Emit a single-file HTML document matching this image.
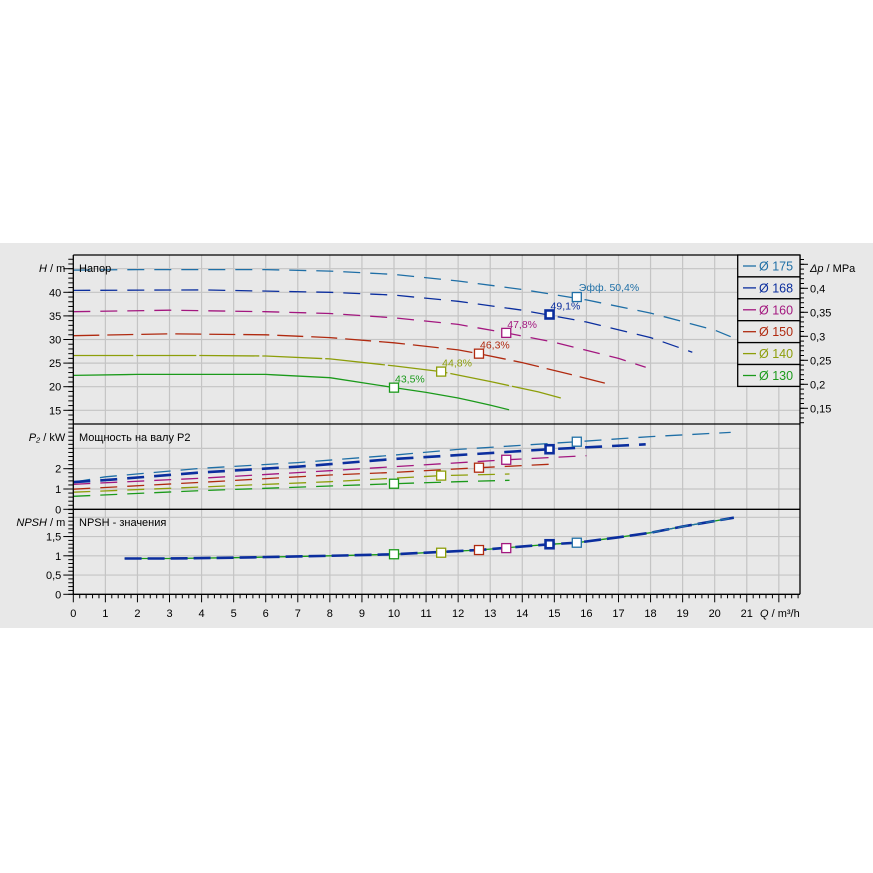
<!DOCTYPE html>
<html><head><meta charset="utf-8"><style>
html,body{margin:0;padding:0;background:#fff;}
svg{display:block;font-family:"Liberation Sans",sans-serif;}
</style></head><body>
<svg id="chart" width="873" height="873" viewBox="0 0 873 873" xmlns="http://www.w3.org/2000/svg">
<rect x="0" y="243" width="873" height="385" fill="#e8e8e8"/>
<g id="grid"></g>
<g id="curves"></g>
<g id="axes"></g>
</svg>
<script>
const sizes = ["175","168","160","150","140","130"];
const colors = ["#1f6fa6","#0b2e9e","#a3177f","#b02a10","#8d9e0a","#1b9a1b"];
const headQ = [
 [0,2,4,6,8,10,12,14,16,18,20,20.5],
 [0,4,8,10,12,14,16,18,19.3],
 [0,3,6,8,10,12,13.5,15,17,17.85],
 [0,3,6,8,10,12,12.65,14,15.5,16.6],
 [0,4,6,8,10,11.47,13,14.5,15.2],
 [0,2,6,8,10,11,12,13,13.59]];
const headH = [
 [44.7,44.8,44.8,44.8,44.5,43.8,42.4,40.6,38.4,35.6,32.0,30.6],
 [40.4,40.5,40.0,39.4,38.1,36.2,33.7,30.4,27.3],
 [35.9,36.2,35.9,35.5,34.6,33.2,31.4,29.4,26.0,24.1],
 [30.8,31.2,31.0,30.4,29.3,27.8,27.0,25.1,22.6,20.7],
 [26.6,26.6,26.5,25.9,24.4,23.2,21.1,18.9,17.6],
 [22.4,22.6,22.6,21.9,19.8,18.8,17.6,16.1,15.1]];
const powerQ = [
 [0,1,4,7,10,12,15.7,18,20.5],
 [0,1,4,7,10,12,14.85,17.85],
 [0,4,8,10,13.5,16],
 [0,4,8,10,12.65,14.9],
 [0,4,8,10,11.47,13.6],
 [0,4,8,10,12,13.6]];
const powerP = [
 [1.34,1.6,2.02,2.3,2.67,2.95,3.33,3.58,3.79],
 [1.34,1.44,1.82,2.1,2.48,2.67,2.96,3.2],
 [1.23,1.53,1.9,2.1,2.44,2.64],
 [0.99,1.33,1.69,1.82,2.05,2.22],
 [0.84,1.1,1.36,1.53,1.66,1.74],
 [0.64,0.92,1.15,1.26,1.36,1.43]];
const npshQ = [1.6,3,5,8,10,12.65,14.85,15.7,17,18,19,20.6];
const npshV = [0.93,0.93,0.95,1.0,1.04,1.15,1.3,1.34,1.48,1.6,1.76,1.99];
const bepQ = [15.7,14.85,13.5,12.65,11.47,10];
const bepH = [39.0,35.3,31.4,27.0,23.2,19.8];
const bepP = [3.33,2.96,2.44,2.05,1.66,1.26];
const bepN = [1.34,1.3,1.2,1.15,1.08,1.04];
const effLabels = ["Эфф.  50,4%","49,1%","47,8%","46,3%","44,8%","43,5%"];
const qTicks = [0,1,2,3,4,5,6,7,8,9,10,11,12,13,14,15,16,17,18,19,20,21];
const hTicks = [15,20,25,30,35,40];
const pTicks = [0,1,2];
const nTicks = ["0","0,5","1","1,5"];
const dpTicks = ["0,15","0,2","0,25","0,3","0,35","0,4"];

const L=73.3, R=800, T1=255, B1=424, B2=509.3, B3=594.3;
const xQ = q => L + q*32.07;
const yH = h => 292.3 - (h-40)*4.72;
const yP = p => 509.3 - p*20.3;
const yN = n => 594.3 - n*38.5;
const yDp = d => 288.3 - (d-0.4)*480;
const NS="http://www.w3.org/2000/svg";
function mk(parent,tag,attrs,text){const e=document.createElementNS(NS,tag);for(const k in attrs)e.setAttribute(k,attrs[k]);if(text!==undefined)e.textContent=text;parent.appendChild(e);return e;}
const grid=document.getElementById('grid'), curves=document.getElementById('curves'), axes=document.getElementById('axes');

// vertical grid
qTicks.forEach(q=>{ if(q===0) return; const l=mk(grid,'line',{x1:xQ(q),x2:xQ(q),y1:T1,y2:B3,stroke:'#c4c4c4','stroke-width':1.2});

});
[22].forEach(q=>{const l=mk(grid,'line',{x1:xQ(q),x2:xQ(q),y1:T1,y2:B3,stroke:'#c4c4c4','stroke-width':1.2});

});
// horizontal grid
[15,20,25,30,35,40,45].forEach(h=>{const l=mk(grid,'line',{x1:L,x2:R,y1:yH(h),y2:yH(h),stroke:'#c4c4c4','stroke-width':1.2});

});
[1,2,3].forEach(p=>{const l=mk(grid,'line',{x1:L,x2:R,y1:yP(p),y2:yP(p),stroke:'#c4c4c4','stroke-width':1.2});

});
[0.5,1,1.5,2].forEach(n=>{const l=mk(grid,'line',{x1:L,x2:R,y1:yN(n),y2:yN(n),stroke:'#c4c4c4','stroke-width':1.2});

});

function path(qs,vs,fy){return qs.map((q,i)=>(i?'L':'M')+xQ(q).toFixed(1)+','+fy(vs[i]).toFixed(1)).join(' ');}
const dashes=["17,10","17,10","17,10","26,8","60,3","200,0"];
for(let i=0;i<6;i++){
 const hp=mk(curves,'path',{d:path(headQ[i],headH[i],yH),fill:'none',stroke:colors[i],'stroke-width':1.3,'stroke-dasharray':dashes[i]});
 
 
 const pp=mk(curves,'path',{d:path(powerQ[i],powerP[i],yP),fill:'none',stroke:colors[i],'stroke-width':i===1?2.6:1.3,'stroke-dasharray':"17,10"});
 
 
}
const np1=mk(curves,'path',{d:path(npshQ,npshV,yN),fill:'none',stroke:'#1b9a1b','stroke-width':1.3});


const np2=mk(curves,'path',{d:path(npshQ,npshV,yN),fill:'none',stroke:'#0b2e9e','stroke-width':2.6,'stroke-dasharray':"17,6"});


const np3=mk(curves,'path',{d:path(npshQ.slice(-3),npshV.slice(-3),yN),fill:'none',stroke:'#1f6fa6','stroke-width':1.3,'stroke-dasharray':"10,4"});



const effPos=[[577,293],[551,311],[508,330],[480,350],[441,368],[395,385]];
for(let i=0;i<6;i++){
 const sw=i===1?2.6:1.3, s=i===1?8:9;
 [[bepH[i],yH],[bepP[i],yP],[bepN[i],yN]].forEach((pr,k)=>{
  const r=mk(curves,'rect',{x:xQ(bepQ[i])-s/2,y:pr[1](pr[0])-s/2,width:s,height:s,fill:'#fff',stroke:colors[i],'stroke-width':sw});
  
  
 });
 const t=mk(curves,'text',{x:xQ(bepQ[i])+(i===0?2:1),y:yH(bepH[i])-(i===0?6:5),fill:colors[i],'font-size':10.5},effLabels[i]);
 
 
}

// panel borders
[[T1],[B1],[B2],[B3]].forEach(y=>{const l=mk(axes,'line',{x1:L,x2:R,y1:y,y2:y,stroke:'#000','stroke-width':1.3});

});
[L,R].forEach(x=>{const l=mk(axes,'line',{x1:x,x2:x,y1:T1,y2:B3,stroke:'#000','stroke-width':1.3});

});

// x ticks
for(let k=0;k<=113;k++){const q=k*0.2;const major=k%5===0;mk(axes,'line',{x1:xQ(q),x2:xQ(q),y1:B3,y2:B3+(major?8:4),stroke:'#000','stroke-width':1});}
qTicks.forEach(q=>{const t=mk(axes,'text',{x:xQ(q),y:617,'text-anchor':'middle','font-size':11},String(q));

});
const xt=mk(axes,'text',{x:760,y:617,'font-size':11});xt.innerHTML='<tspan font-style="italic">Q</tspan> / m³/h';



// left ticks
function leftTicks(y0,y1,step,fy,from){for(let v=from;fy(v)>=y0-0.1;v+=step){const y=fy(v);if(y>y1+0.1)continue;mk(axes,'line',{x1:L-5,x2:L,y1:y,y2:y,stroke:'#000','stroke-width':1});}}
leftTicks(T1,B1,1,yH,12);
leftTicks(B1,B2,0.2,yP,0);
leftTicks(B2,B3,0.1,yN,0);
hTicks.concat([45]).forEach(h=>mk(axes,'line',{x1:L-10,x2:L,y1:yH(h),y2:yH(h),stroke:'#000','stroke-width':1}));
hTicks.forEach(h=>{const t=mk(axes,'text',{x:L-12,y:yH(h)+4,'text-anchor':'end','font-size':11},String(h));

});
pTicks.forEach(p=>{mk(axes,'line',{x1:L-10,x2:L,y1:yP(p),y2:yP(p),stroke:'#000','stroke-width':1});const t=mk(axes,'text',{x:L-12,y:yP(p)+4,'text-anchor':'end','font-size':11},String(p));

});
nTicks.forEach((s,i)=>{const v=i*0.5;mk(axes,'line',{x1:L-10,x2:L,y1:yN(v),y2:yN(v),stroke:'#000','stroke-width':1});const t=mk(axes,'text',{x:L-12,y:yN(v)+4,'text-anchor':'end','font-size':11},s);

});
const ht=mk(axes,'text',{x:L-8,y:272,'text-anchor':'end','font-size':11});ht.innerHTML='<tspan font-style="italic">H</tspan> / m';

const pt=mk(axes,'text',{x:L-8,y:441,'text-anchor':'end','font-size':11});pt.innerHTML='<tspan font-style="italic">P₂</tspan> / kW';

const nt=mk(axes,'text',{x:L-8,y:526,'text-anchor':'end','font-size':11});nt.innerHTML='<tspan font-style="italic">NPSH</tspan> / m';

[["Напор",272,'panel-title-head'],["Мощность на валу P2",441,'panel-title-power'],["NPSH - значения",526,'panel-title-npsh']].forEach(a=>{const t=mk(axes,'text',{x:79,y:a[1],'font-size':11},a[0]);
});

// right axis
for(let d=0.12;yDp(d)>=T1;d+=0.01){const y=yDp(d);mk(axes,'line',{x1:R,x2:R+4,y1:y,y2:y,stroke:'#000','stroke-width':1});}
dpTicks.forEach((s,i)=>{const d=0.15+i*0.05;mk(axes,'line',{x1:R,x2:R+8,y1:yDp(d),y2:yDp(d),stroke:'#000','stroke-width':1});const t=mk(axes,'text',{x:R+10,y:yDp(d)+4,'font-size':11},s);
});
mk(axes,'line',{x1:R,x2:R+8,y1:yDp(0.45),y2:yDp(0.45),stroke:'#000','stroke-width':1});
const dt=mk(axes,'text',{x:R+10,y:272,'font-size':11});dt.innerHTML='<tspan font-style="italic">Δp</tspan> / MPa';


// legend
const lg=mk(axes,'g',{});

for(let i=0;i<6;i++){const y=T1+i*21.9;
 const r=mk(lg,'rect',{x:737.7,y:y,width:62.3,height:21.9,fill:'#e8e8e8',stroke:'#000','stroke-width':1.3});
 
 mk(lg,'line',{x1:743,x2:756,y1:y+11,y2:y+11,stroke:colors[i],'stroke-width':1.3});
 const t=mk(lg,'text',{x:759,y:y+15.5,fill:colors[i],'font-size':12.5},'Ø '+sizes[i]);
 
}
</script>
</body></html>
